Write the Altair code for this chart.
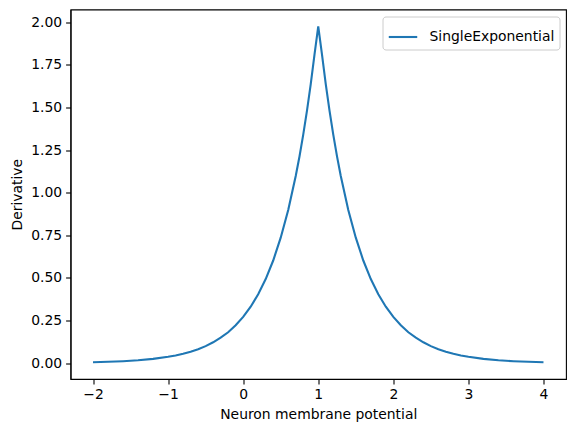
import altair as alt
import pandas as pd

potential = [-2.0, -1.8, -1.6, -1.4, -1.2, -1.0, -0.9, -0.8, -0.7, -0.6, -0.5, -0.4, -0.3, -0.2, -0.1,
             0.0, 0.1, 0.2, 0.3, 0.4, 0.5, 0.6, 0.7, 0.75, 0.8, 0.85, 0.9, 0.95,
             1.0,
             1.05, 1.1, 1.15, 1.2, 1.25, 1.3, 1.4, 1.5, 1.6, 1.7, 1.8, 1.9, 2.0,
             2.1, 2.2, 2.3, 2.4, 2.5, 2.6, 2.7, 2.8, 2.9, 3.0, 3.2, 3.4, 3.6, 3.8, 4.0]
derivative = [0.0050, 0.0074, 0.0110, 0.0165, 0.0246, 0.0366, 0.0447, 0.0546, 0.0667, 0.0815, 0.0996, 0.122, 0.149, 0.181, 0.222,
              0.271, 0.331, 0.404, 0.493, 0.602, 0.736, 0.899, 1.098, 1.213, 1.341, 1.482, 1.637, 1.810,
              1.976,
              1.810, 1.637, 1.482, 1.341, 1.213, 1.098, 0.899, 0.736, 0.602, 0.493, 0.404, 0.331, 0.271,
              0.222, 0.181, 0.149, 0.122, 0.0996, 0.0815, 0.0667, 0.0546, 0.0447, 0.0366, 0.0246, 0.0165, 0.0110, 0.0074, 0.0050]
series = ["SingleExponential"] * len(potential)

x_ticks = [-2, -1, 0, 1, 2, 3, 4]
y_ticks = [0.0, 0.25, 0.5, 0.75, 1.0, 1.25, 1.5, 1.75, 2.0]

df = pd.DataFrame({"potential": potential, "derivative": derivative, "series": series})

FONT = "DejaVu Sans"
FS = 13.9

chart = alt.Chart(df).mark_line(strokeWidth=2.1).encode(
    x=alt.X("potential:Q",
            scale=alt.Scale(domain=[-2.3, 4.3], nice=False, zero=False),
            axis=alt.Axis(values=x_ticks, format="d", title="Neuron membrane potential")),
    y=alt.Y("derivative:Q",
            scale=alt.Scale(domain=[-0.0935, 2.0755], nice=False, zero=False),
            axis=alt.Axis(values=y_ticks, format=".2f", title="Derivative")),
    color=alt.Color("series:N", scale=alt.Scale(range=["#1f77b4"]),
                    legend=alt.Legend(title=None, orient="top-right", offset=7,
                                      strokeColor="#cccccc", cornerRadius=3, padding=5,
                                      fillColor="white", symbolType="stroke",
                                      symbolSize=810, symbolStrokeWidth=2.1,
                                      labelFontSize=FS, labelFont=FONT, labelColor="black",
                                      labelOffset=11)),
).properties(
    width=495.5, height=369.5,
    autosize=alt.AutoSizeParams(type="none"),
    padding={"left": 62.5, "top": 1.5, "right": 2, "bottom": 50},
).configure_view(
    stroke="black", strokeWidth=1.1
).configure_axis(
    grid=False, domainColor="black", tickColor="black", tickSize=4.9, tickWidth=1.1,
    domainWidth=1.1,
    labelFont=FONT, labelFontSize=FS, labelColor="black", labelPadding=4,
    titleFont=FONT, titleFontSize=FS, titleFontWeight="normal", titleColor="black",
    titlePadding=6,
)

chart.save("out.html", embed_options={"renderer": "svg", "actions": False})
